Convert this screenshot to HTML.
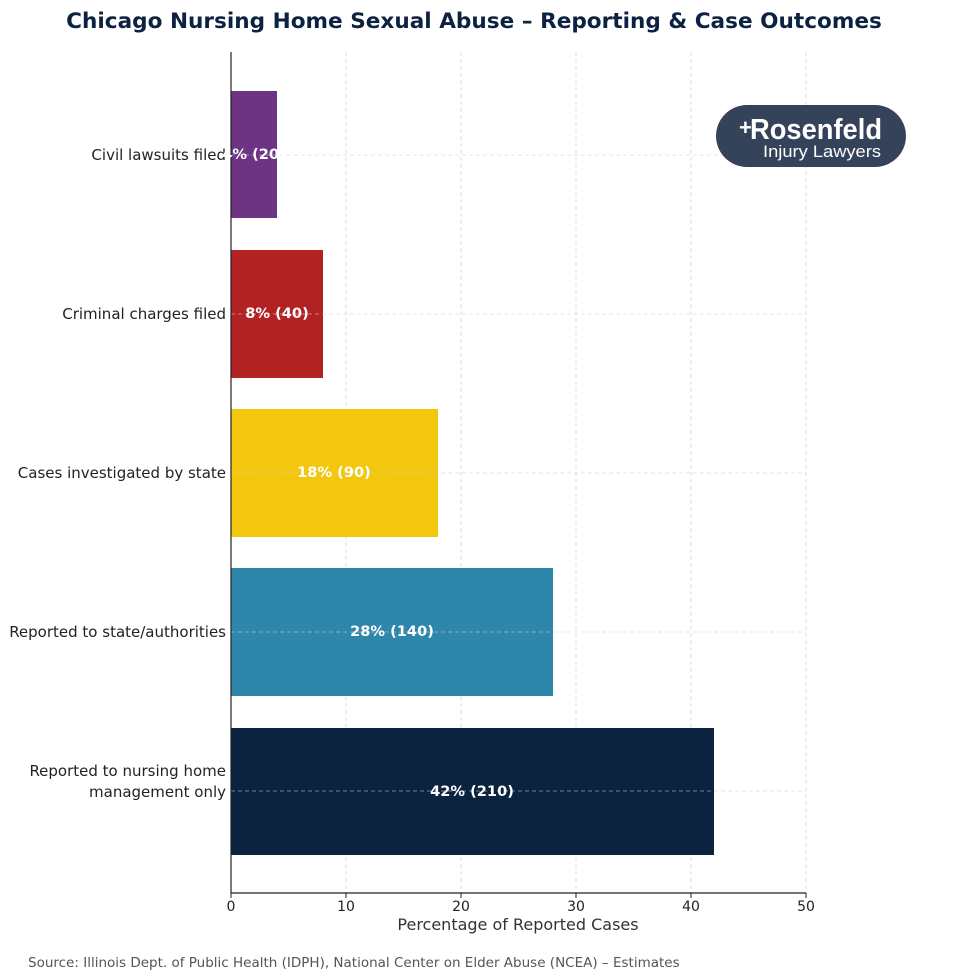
<!DOCTYPE html>
<html><head><meta charset="utf-8"><style>html,body{margin:0;padding:0;background:#fff;}svg{display:block;}</style></head>
<body>
<svg width="980" height="980" viewBox="0 0 980 980" xmlns="http://www.w3.org/2000/svg" font-family="DejaVu Sans, Liberation Sans, sans-serif">
<rect width="980" height="980" fill="#fff"/>
<text x="474" y="28" text-anchor="middle" font-size="21.6" font-weight="bold" fill="#0d2240">Chicago Nursing Home Sexual Abuse – Reporting &amp; Case Outcomes</text>
<g stroke="#d6d6d6" stroke-dasharray="4,3" stroke-width="0.8">
<line x1="346" y1="52" x2="346" y2="893"/><line x1="461" y1="52" x2="461" y2="893"/><line x1="576" y1="52" x2="576" y2="893"/><line x1="691" y1="52" x2="691" y2="893"/><line x1="806" y1="52" x2="806" y2="893"/>
</g>
<rect x="231" y="91" width="46" height="127" fill="#6c3483"/>
<rect x="231" y="250" width="92" height="128" fill="#b22222"/>
<rect x="231" y="409" width="207" height="128" fill="#f4c70f"/>
<rect x="231" y="568" width="322" height="128" fill="#2e86ab"/>
<rect x="231" y="728" width="483" height="127" fill="#0c2340"/>
<g stroke="#d0d0d0" stroke-dasharray="4,3" stroke-width="0.8" opacity="0.7">
<line x1="231" y1="155" x2="806" y2="155"/><line x1="231" y1="314" x2="806" y2="314"/><line x1="231" y1="473" x2="806" y2="473"/><line x1="231" y1="632" x2="806" y2="632"/><line x1="231" y1="791" x2="806" y2="791"/>
</g>
<line x1="231" y1="52" x2="231" y2="893" stroke="#222" stroke-width="1.2"/>
<line x1="231" y1="893" x2="806" y2="893" stroke="#222" stroke-width="1.2"/>
<g stroke="#222"><line x1="231" y1="893" x2="231" y2="898"/><line x1="346" y1="893" x2="346" y2="898"/><line x1="461" y1="893" x2="461" y2="898"/><line x1="576" y1="893" x2="576" y2="898"/><line x1="691" y1="893" x2="691" y2="898"/><line x1="806" y1="893" x2="806" y2="898"/></g>
<g font-size="14" fill="#222" text-anchor="middle">
<text x="231" y="911">0</text><text x="346" y="911">10</text><text x="461" y="911">20</text><text x="576" y="911">30</text><text x="691" y="911">40</text><text x="806" y="911">50</text>
</g>
<text x="518" y="930" text-anchor="middle" font-size="16" fill="#333">Percentage of Reported Cases</text>
<g font-size="15" fill="#222" text-anchor="end">
<text x="226" y="160">Civil lawsuits filed</text>
<text x="226" y="319">Criminal charges filed</text>
<text x="226" y="478">Cases investigated by state</text>
<text x="226" y="637">Reported to state/authorities</text>
<text x="226" y="776">Reported to nursing home</text>
<text x="226" y="797">management only</text>
</g>
<g font-size="14.6" font-weight="bold" fill="#fff" text-anchor="middle">
<text x="254" y="159">4% (20)</text>
<text x="277" y="318">8% (40)</text>
<text x="334" y="477">18% (90)</text>
<text x="392" y="636">28% (140)</text>
<text x="472" y="796">42% (210)</text>
</g>
<rect x="716" y="105" width="190" height="62" rx="31" fill="#34425a"/>
<text x="739" y="135" font-size="22" font-weight="bold" fill="#fff" font-family="Liberation Sans, sans-serif">+</text>
<text x="750" y="139" font-size="29" fill="#fff" font-family="Liberation Sans, sans-serif" font-weight="bold" textLength="132" lengthAdjust="spacingAndGlyphs">Rosenfeld</text>
<text x="822" y="157" text-anchor="middle" font-size="17" fill="#fff" font-family="Liberation Sans, sans-serif" textLength="118" lengthAdjust="spacingAndGlyphs">Injury Lawyers</text>
<text x="28" y="967" font-size="13.5" fill="#555">Source: Illinois Dept. of Public Health (IDPH), National Center on Elder Abuse (NCEA) – Estimates</text>
</svg>
</body></html>
